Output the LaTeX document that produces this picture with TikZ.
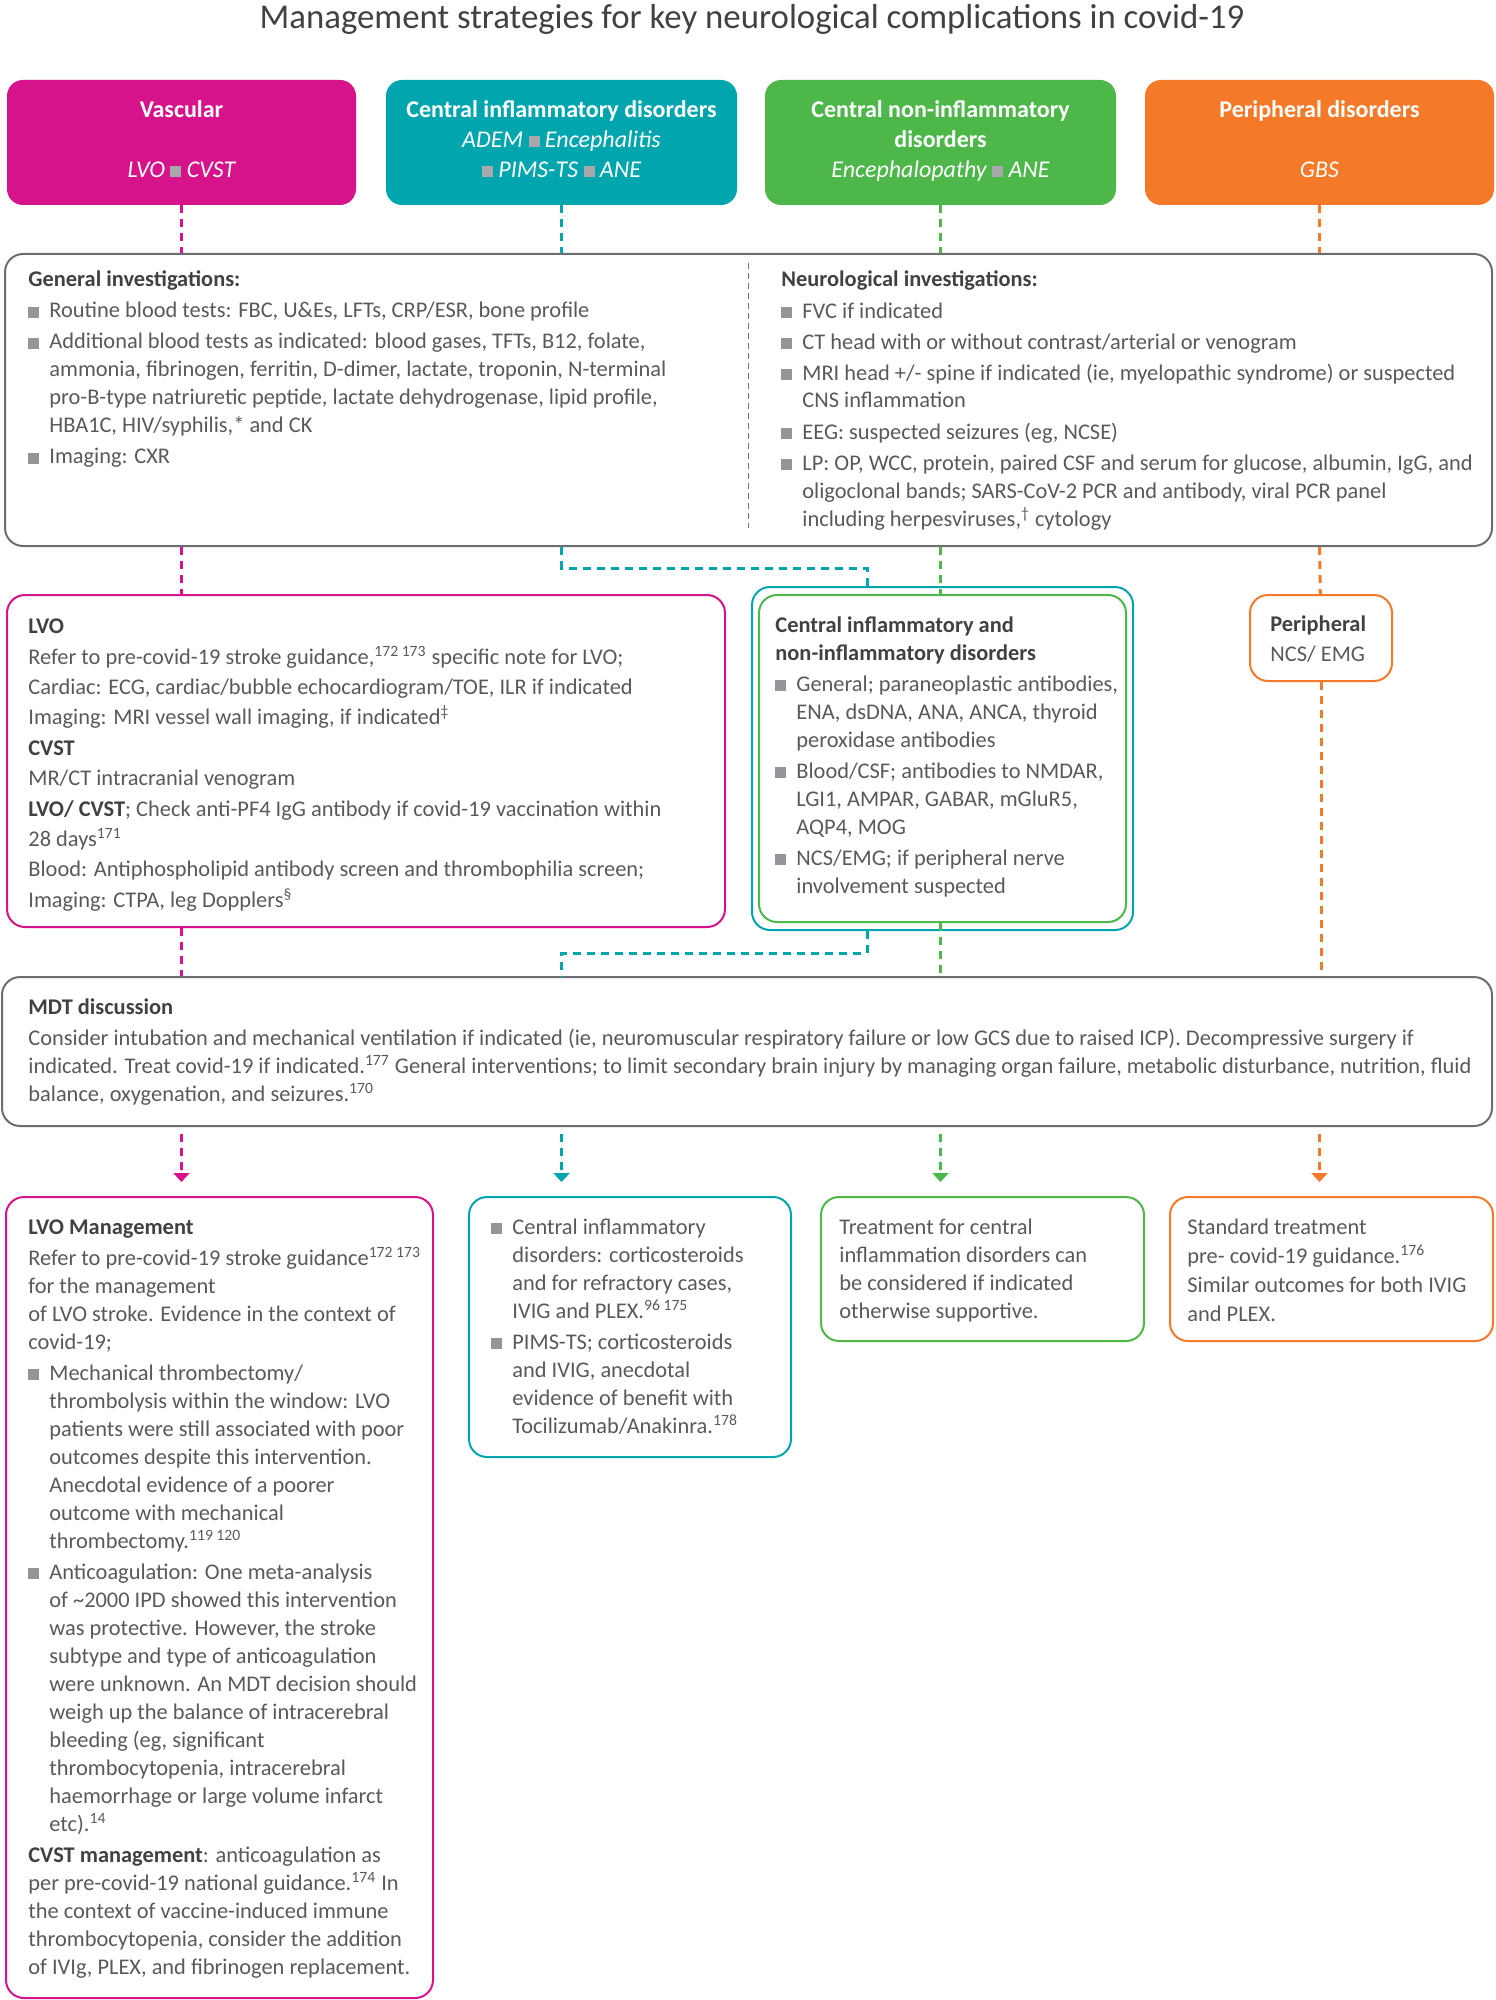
\documentclass[tikz,border=0pt]{standalone}
\usepackage{fontspec}
\setmainfont{Carlito}
\usetikzlibrary{arrows.meta}
\definecolor{cmag}{HTML}{D7138C}
\definecolor{cteal}{HTML}{00A5AE}
\definecolor{cgreen}{HTML}{4DB74A}
\definecolor{corange}{HTML}{F47A2A}
\definecolor{boxgrey}{HTML}{6D6E71}
\definecolor{txtgrey}{HTML}{58595B}
\definecolor{headgrey}{HTML}{414042}
\definecolor{sqgrey}{HTML}{939598}
\definecolor{sqlight}{HTML}{A7A9AC}
\newcommand{\bulx}{\makebox[10.5pt][l]{\textcolor{sqgrey}{\rule{5.5pt}{5.5pt}}}}
\newcommand{\indx}{\makebox[10.5pt]{}}
\newcommand{\sqw}{\textcolor{sqlight}{\rule{5.5pt}{5.5pt}}}
\newcommand{\refn}[1]{\textsuperscript{#1}}
\newcommand{\tsup}{\rule{0pt}{10pt}}
\newcommand{\tsdn}{\rule[-5pt]{0pt}{5pt}}
\begin{document}
\begin{tikzpicture}[x=0.5pt, y=-0.5pt,
    topbox/.style={rounded corners=8pt, inner sep=0pt, text=white, align=center,
                   minimum height=62.5pt, font=\fontsize{12}{15}\selectfont},
    invbox/.style={draw=boxgrey, line width=1pt, rounded corners=9pt, inner sep=0pt},
    colbox/.style={draw=#1, line width=1pt, rounded corners=9pt, inner sep=0pt},
    body/.style={anchor=north west, inner sep=0pt, align=left, text=txtgrey,
                 font=\fontsize{11.2}{14}\selectfont},
    dline/.style={draw=#1, line width=1.5pt, dash pattern=on 4pt off 3pt},
    arr/.style={-{Triangle[width=8pt, length=4.5pt]}, shorten <=3.5pt, shorten >=7pt},
    divider/.style={draw=boxgrey, line width=0.5pt, dash pattern=on 3pt off 2pt}
  ]
  \useasboundingbox (0,0) rectangle (1495,2000);

  \node[font=\fontsize{17.4}{20}\selectfont, text=headgrey] (title) at (752,19)
    {Management strategies for key neurological complications in covid-19};

  \node[topbox, fill=cmag,    minimum width=174.5pt] (vasc)  at (181.5,142.5)
    {\tsup{\bfseries Vascular}\\[15pt]{\itshape LVO \sqw{} CVST}\tsdn};
  \node[topbox, fill=cteal,   minimum width=175.5pt] (cinf)  at (561.5,142.5)
    {\tsup{\bfseries Central inflammatory disorders}\\{\itshape ADEM \sqw{} Encephalitis}\\{\itshape \sqw{} PIMS-TS \sqw{} ANE}\tsdn};
  \node[topbox, fill=cgreen,  minimum width=175.5pt] (cnon)  at (940.5,142.5)
    {\tsup{\bfseries Central non-inflammatory}\\{\bfseries disorders}\\{\itshape Encephalopathy \sqw{} ANE}\tsdn};
  \node[topbox, fill=corange, minimum width=174.5pt] (perif) at (1319.5,142.5)
    {\tsup{\bfseries Peripheral disorders}\\[15pt]{\itshape GBS}\tsdn};

  \node[invbox, minimum width=743.5pt, minimum height=146pt] (geninv) at (748.5,400) {};
  \draw[divider] ([yshift=-5pt]geninv.north) -- ([yshift=9.5pt]geninv.south);
  \node[body] (gentxt) at (28,267)
    {\strut{\bfseries\color{headgrey}General investigations:}\\[1.5pt]
     \bulx Routine blood tests: FBC, U\&Es, LFTs, CRP/ESR, bone profile\\[1.5pt]
     \bulx Additional blood tests as indicated: blood gases, TFTs, B12, folate,\\
     \indx ammonia, fibrinogen, ferritin, D-dimer, lactate, troponin, N-terminal\\
     \indx pro-B-type natriuretic peptide, lactate dehydrogenase, lipid profile,\\
     \indx HBA1C, HIV/syphilis,* and CK\\[1.5pt]
     \bulx Imaging: CXR};
  \node[body] (neutxt) at (781,267)
    {\strut{\bfseries\color{headgrey}Neurological investigations:}\\[1.5pt]
     \bulx FVC if indicated\\[1.5pt]
     \bulx CT head with or without contrast/arterial or venogram\\[1.5pt]
     \bulx MRI head +/- spine if indicated (ie, myelopathic syndrome) or suspected\\
     \indx CNS inflammation\\[1.5pt]
     \bulx EEG: suspected seizures (eg, NCSE)\\[1.5pt]
     \bulx LP: OP, WCC, protein, paired CSF and serum for glucose, albumin, IgG, and\\
     \indx oligoclonal bands; SARS-CoV-2 PCR and antibody, viral PCR panel\\
     \indx including herpesviruses,\refn{†} cytology};

  \node[colbox=cmag, minimum width=359pt, minimum height=166pt] (lvoinv) at (366,761) {};
  \node[body, font=\fontsize{11.2}{15.2}\selectfont] (lvotxt) at (28,612)
    {\strut{\bfseries\color{headgrey}LVO}\\
     Refer to pre-covid-19 stroke guidance,\refn{172 173} specific note for LVO;\\
     Cardiac: ECG, cardiac/bubble echocardiogram/TOE, ILR if indicated\\
     Imaging: MRI vessel wall imaging, if indicated\refn{‡}\\
     {\bfseries\color{headgrey}CVST}\\
     MR/CT intracranial venogram\\
     {\bfseries\color{headgrey}LVO/ CVST}; Check anti-PF4 IgG antibody if covid-19 vaccination within\\
     28 days\refn{171}\\
     Blood: Antiphospholipid antibody screen and thrombophilia screen;\\
     Imaging: CTPA, leg Dopplers\refn{§}};

  \node[colbox=cteal,  minimum width=190.5pt, minimum height=171.5pt] (cinv)  at (942.5,758.5) {};
  \node[colbox=cgreen, minimum width=183.5pt, minimum height=163.5pt] (cninv) at (942.5,758.5) {};
  \node[body] (centxt) at (775,612)
    {\strut{\bfseries\color{headgrey}Central inflammatory and}\\
     {\bfseries\color{headgrey}non-inflammatory disorders}\\[1.5pt]
     \bulx General; paraneoplastic antibodies,\\
     \indx ENA, dsDNA, ANA, ANCA, thyroid\\
     \indx peroxidase antibodies\\[1.5pt]
     \bulx Blood/CSF; antibodies to NMDAR,\\
     \indx LGI1, AMPAR, GABAR, mGluR5,\\
     \indx AQP4, MOG\\[1.5pt]
     \bulx NCS/EMG; if peripheral nerve\\
     \indx involvement suspected};

  \node[colbox=corange, minimum width=71pt, minimum height=43pt] (perinv) at (1321,638) {};
  \node[body, font=\fontsize{11.2}{15}\selectfont] (pertxt) at (1270,610)
    {\strut{\bfseries\color{headgrey}Peripheral}\\NCS/ EMG};

  \node[invbox, minimum width=745pt, minimum height=74.5pt] (mdt) at (747,1051.5) {};
  \node[body] (mdttxt) at (28,994)
    {\strut{\bfseries\color{headgrey}MDT discussion}\\[1.5pt]
     Consider intubation and mechanical ventilation if indicated (ie, neuromuscular respiratory failure or low GCS due to raised ICP). Decompressive surgery if\\
     indicated. Treat covid-19 if indicated.\refn{177} General interventions; to limit secondary brain injury by managing organ failure, metabolic disturbance, nutrition, fluid\\
     balance, oxygenation, and seizures.\refn{170}};

  \node[colbox=cmag, minimum width=213.5pt, minimum height=400.5pt] (lvomgt) at (219.5,1597.5) {};
  \node[body] (lvomtxt) at (28,1214)
    {\strut{\bfseries\color{headgrey}LVO Management}\\[1.5pt]
     Refer to pre-covid-19 stroke guidance\refn{172 173}\\
     for the management\\
     of LVO stroke. Evidence in the context of\\
     covid-19;\\[1.5pt]
     \bulx Mechanical thrombectomy/\\
     \indx thrombolysis within the window: LVO\\
     \indx patients were still associated with poor\\
     \indx outcomes despite this intervention.\\
     \indx Anecdotal evidence of a poorer\\
     \indx outcome with mechanical\\
     \indx thrombectomy.\refn{119 120}\\[1.5pt]
     \bulx Anticoagulation: One meta-analysis\\
     \indx of \textasciitilde2000 IPD showed this intervention\\
     \indx was protective. However, the stroke\\
     \indx subtype and type of anticoagulation\\
     \indx were unknown. An MDT decision should\\
     \indx weigh up the balance of intracerebral\\
     \indx bleeding (eg, significant\\
     \indx thrombocytopenia, intracerebral\\
     \indx haemorrhage or large volume infarct\\
     \indx etc).\refn{14}\\[1.5pt]
     {\bfseries\color{headgrey}CVST management}: anticoagulation as\\
     per pre-covid-19 national guidance.\refn{174} In\\
     the context of vaccine-induced immune\\
     thrombocytopenia, consider the addition\\
     of IVIg, PLEX, and fibrinogen replacement.};

  \node[colbox=cteal, minimum width=161pt, minimum height=130pt] (cinfmgt) at (630,1327) {};
  \node[body] (cinfmtxt) at (491,1214)
    {\strut\bulx Central inflammatory\\
     \indx disorders: corticosteroids\\
     \indx and for refractory cases,\\
     \indx IVIG and PLEX.\refn{96 175}\\[1.5pt]
     \bulx PIMS-TS; corticosteroids\\
     \indx and IVIG, anecdotal\\
     \indx evidence of benefit with\\
     \indx Tocilizumab/Anakinra.\refn{178}};

  \node[colbox=cgreen, minimum width=161.5pt, minimum height=72pt] (cnonmgt) at (982.5,1269) {};
  \node[body] (cnonmtxt) at (839,1214)
    {\strut Treatment for central\\
     inflammation disorders can\\
     be considered if indicated\\
     otherwise supportive.};

  \node[colbox=corange, minimum width=161.5pt, minimum height=72pt] (perimgt) at (1331.5,1269) {};
  \node[body, font=\fontsize{11.2}{14.5}\selectfont] (perimtxt) at (1187,1214)
    {\strut Standard treatment\\
     pre- covid-19 guidance.\refn{176}\\
     Similar outcomes for both IVIG\\
     and PLEX.};

  \draw[dline=cmag]    (vasc)  -- (vasc |- geninv.north);
  \draw[dline=cteal]   (cinf)  -- (cinf |- geninv.north);
  \draw[dline=cgreen]  (cnon)  -- (cnon |- geninv.north);
  \draw[dline=corange] (perif) -- (perif |- geninv.north);

  \draw[dline=cmag]    (vasc |- geninv.south) -- (vasc |- lvoinv.north);
  \draw[dline=cteal]   (cinf |- geninv.south) -- ++(0,21) -| ([xshift=-37.75pt]cinv.north);
  \draw[dline=cgreen]  (cnon |- geninv.south) -- (cnon |- cninv.north);
  \draw[dline=corange] (perif |- geninv.south) -- (perinv);

  \draw[dline=cmag]    (vasc |- lvoinv.south) -- (vasc |- mdt.north);
  \draw[dline=cteal]   ([xshift=-37.75pt]cinv.south) -- ++(0,22) -| (cinf |- mdt.north);
  \draw[dline=cgreen]  (cnon |- cninv.south) -- (cnon |- mdt.north);
  \draw[dline=corange] (perinv) -- (perinv |- mdt.north);

  \draw[dline=cmag, arr, fill=cmag]       (vasc |- mdt.south) -- (vasc |- lvomgt.north);
  \draw[dline=cteal, arr, fill=cteal]     (cinf |- mdt.south) -- (cinf |- cinfmgt.north);
  \draw[dline=cgreen, arr, fill=cgreen]   (cnon |- mdt.south) -- (cnon |- cnonmgt.north);
  \draw[dline=corange, arr, fill=corange] (perif |- mdt.south) -- (perif |- perimgt.north);
\end{tikzpicture}
\end{document}
